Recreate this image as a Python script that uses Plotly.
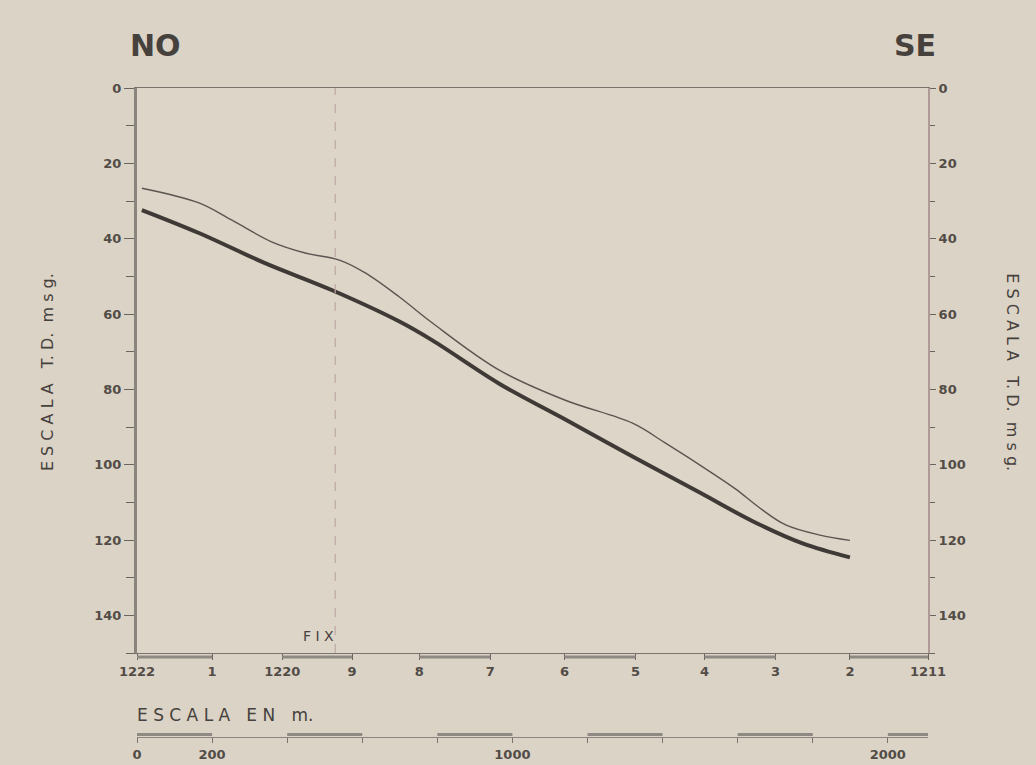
import plotly.graph_objects as go

# ---- data ----
stations = ["1222", "1", "1220", "9", "8", "7", "6", "5", "4", "3", "2", "1211"]
station_dist = [0, 200, 387, 573, 752, 941, 1139, 1328, 1512, 1701, 1899, 2107]

fix_dist = 528

upper_x = [13, 165, 253, 360, 448, 539, 608, 699, 787, 965, 1141, 1320, 1408, 1533, 1595, 1659, 1728, 1819, 1899]
upper_y = [26.6, 30.5, 35.1, 40.9, 43.8, 45.7, 49.1, 55.5, 62.4, 74.9, 82.9, 89.0, 94.3, 102.3, 106.5, 111.5, 116.0, 118.7, 120.1]

lower_x = [13, 165, 341, 520, 699, 787, 965, 1141, 1320, 1499, 1640, 1773, 1899]
lower_y = [32.4, 38.5, 46.5, 53.7, 62.0, 67.0, 78.5, 88.0, 97.8, 107.4, 115.0, 120.9, 124.6]

depth_ticks = [0, 20, 40, 60, 80, 100, 120, 140]
scale_ticks = [0, 200, 400, 600, 800, 1000, 1200, 1400, 1600, 1800, 2000]
scale_labels = ["0", "200", "", "", "", "1000", "", "", "", "", "2000"]
scale_end = 2107

ink = "#46413d"
paper = "#dbd3c5"
font = "DejaVu Sans"

fig = go.Figure()
fig.add_trace(go.Scatter(x=upper_x, y=upper_y, mode="lines",
                         line=dict(color="#5b5550", width=1.4, shape="spline", smoothing=1.0),
                         hoverinfo="skip", showlegend=False))
fig.add_trace(go.Scatter(x=lower_x, y=lower_y, mode="lines",
                         line=dict(color="#3f3a36", width=4, shape="spline", smoothing=1.0),
                         hoverinfo="skip", showlegend=False))
# invisible traces to activate secondary axes
fig.add_trace(go.Scatter(x=[0], y=[0], yaxis="y2", mode="markers", marker=dict(opacity=0),
                         hoverinfo="skip", showlegend=False))
fig.add_trace(go.Scatter(x=[0], y=[0], xaxis="x2", mode="markers", marker=dict(opacity=0),
                         hoverinfo="skip", showlegend=False))

dom_bottom = (737 - 653) / 649.0

tickfont = dict(family=font, size=13, color="#524c47", weight="bold")

fig.update_layout(
    width=1036, height=765,
    margin=dict(l=137, r=108, t=88, b=28, autoexpand=False),
    paper_bgcolor=paper, plot_bgcolor="#dcd5c8",
    showlegend=False,
    xaxis=dict(range=[0, scale_end], domain=[0, 1], anchor="y", automargin=False,
               tickvals=station_dist, ticktext=stations,
               ticks="outside", ticklen=6, tickcolor="#6a6460", tickwidth=1.2,
               showline=True, linecolor="#7a746e", linewidth=1.2, mirror=True,
               showgrid=False, zeroline=False, tickfont=tickfont),
    yaxis=dict(range=[150, 0], domain=[dom_bottom, 1], anchor="x", automargin=False,
               tickvals=depth_ticks, ticks="outside", ticklen=10, tickcolor="#6a6460",
               tickwidth=1.2,
               minor=dict(dtick=10, tick0=0, ticks="outside", ticklen=8, tickcolor="#6a6460"),
               showline=True, linecolor="#8a847e", linewidth=3,
               showgrid=False, zeroline=False, tickfont=tickfont),
    yaxis2=dict(range=[150, 0], overlaying="y", side="right", anchor="x", automargin=False,
                tickvals=depth_ticks, ticks="outside", ticklen=6, tickcolor="#6a6460",
                minor=dict(dtick=10, tick0=0, ticks="outside", ticklen=5, tickcolor="#6a6460"),
                showline=True, linecolor="#b09a98", linewidth=2,
                showgrid=False, zeroline=False, tickfont=tickfont),
    xaxis2=dict(range=[0, scale_end], overlaying="x", anchor="free", position=0, side="bottom",
                automargin=False,
                tickvals=scale_ticks, ticktext=scale_labels,
                ticks="outside", ticklen=5, tickcolor="#7a746e",
                showline=True, linecolor="#8a847e", linewidth=1,
                showgrid=False, zeroline=False, tickfont=tickfont),
)

shapes = []
# FIX vertical dashed line
shapes.append(dict(type="line", xref="x", yref="paper", x0=fix_dist, x1=fix_dist,
                   y0=dom_bottom, y1=1, line=dict(color="#bfa8a4", width=1.2, dash="dash")))
# alternating thick segments on station axis
for i in range(0, len(station_dist) - 1, 2):
    shapes.append(dict(type="line", xref="x", yref="paper",
                       x0=station_dist[i], x1=station_dist[i + 1],
                       y0=dom_bottom - 0.006, y1=dom_bottom - 0.006,
                       line=dict(color="#8f8983", width=3)))
# alternating thick segments on scale bar
seg_edges = scale_ticks + [scale_end]
for i in range(0, len(seg_edges) - 1, 2):
    shapes.append(dict(type="line", xref="x", yref="paper",
                       x0=seg_edges[i], x1=seg_edges[i + 1],
                       y0=0.004, y1=0.004,
                       line=dict(color="#8f8983", width=3)))
fig.update_layout(shapes=shapes)

title_font = dict(family=font, size=16, color=ink)
ann = [
    dict(text="<b>NO</b>", x=0.024, y=1.066, xref="paper", yref="paper", showarrow=False,
         xanchor="center", yanchor="middle", font=dict(family=font, size=30, color=ink)),
    dict(text="<b>SE</b>", x=0.9836, y=1.066, xref="paper", yref="paper", showarrow=False,
         xanchor="center", yanchor="middle", font=dict(family=font, size=30, color=ink)),
    dict(text="E S C A L A   T. D.  m s g.", x=-0.114, y=0.562, xref="paper", yref="paper",
         xanchor="center", yanchor="middle",
         showarrow=False, textangle=-90, font=title_font),
    dict(text="E S C A L A   T. D.  m s g.", x=1.1075, y=0.562, xref="paper", yref="paper",
         xanchor="center", yanchor="middle",
         showarrow=False, textangle=90, font=title_font),
    dict(text="F I X", x=0.229, y=0.1556, xref="paper", yref="paper", showarrow=False,
         xanchor="center", yanchor="middle", font=dict(family=font, size=14, color=ink)),
    dict(text="E S C A L A   E N   m.", x=-0.003, y=0.0339, xref="paper", yref="paper",
         xanchor="left", yanchor="middle", showarrow=False,
         font=dict(family=font, size=17, color=ink)),
]
fig.update_layout(annotations=ann)

fig.write_html("out.html",
               config={"displayModeBar": False},
               post_script="document.body.style.margin='0';"
                           "document.body.style.background='#dbd3c5';"
                           "document.body.style.overflow='hidden';")
